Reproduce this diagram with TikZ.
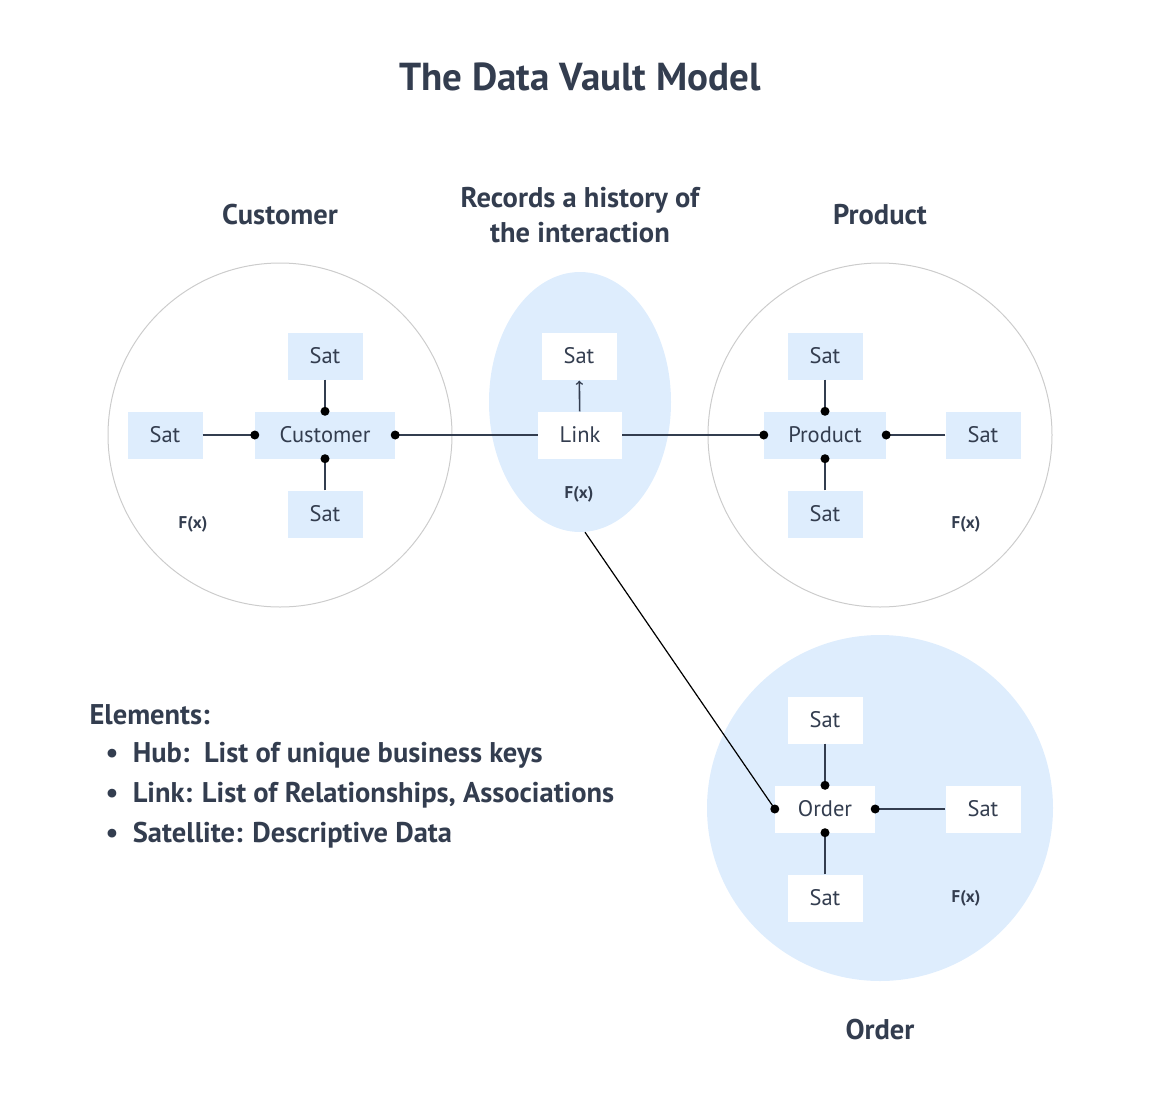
\documentclass[tikz,border=0pt]{standalone}
\usepackage{fontspec}
\setmainfont{PT Sans}
\usetikzlibrary{positioning,shapes,calc}
\definecolor{ink}{HTML}{333D4F}
\definecolor{pale}{HTML}{DEEDFD}
\tikzset{
  box/.style = {rectangle, fill=pale, minimum width=75pt, minimum height=47pt, inner sep=0pt, text=ink, font=\fontsize{22.5}{26}\selectfont},
  wbox/.style = {box, fill=white},
  fx/.style = {text=ink, font=\bfseries\fontsize{17}{19}\selectfont},
  head/.style = {text=ink, align=center, font=\bfseries\fontsize{28.5}{35}\selectfont},
  con/.style = {draw=ink, line width=1.6pt},
  dot/.style = {circle, fill=black, inner sep=0pt, minimum size=9pt}
}
\begin{document}
\begin{tikzpicture}[x=1pt, y=-1pt]
  \useasboundingbox (0,0) rectangle (1160,1093);
  % circles
  \draw[draw=black!20, line width=1pt] (280,435) circle (172);
  \draw[draw=black!20, line width=1pt] (880,435) circle (172);
  \fill[pale] (880,808) circle (173);
  \node[ellipse, fill=pale, minimum width=182pt, minimum height=260pt] (lnkarea) at (580,402) {};
  % headings
  \node[head, font=\bfseries\fontsize{39}{46}\selectfont] (title) at (580,77) {The Data Vault Model};
  \node[head] (tcust) at (280,215) {Customer};
  \node[head] (tlink) at (580,215) {Records a history of\\the interaction};
  \node[head] (tprod) at (880,215) {Product};
  \node[head] (tord) at (880,1030) {Order};
  % customer hub
  \node[box, minimum width=140pt] (cust) at (325,435) {Customer};
  \node[box] (cs1) at (325,356) {Sat};
  \node[box] (cs2) at (165,435) {Sat};
  \node[box] (cs3) at (325,514) {Sat};
  % link
  \node[wbox, minimum width=84pt] (link) at (580,435) {Link};
  \node[wbox] (ls) at (579,356) {Sat};
  % product hub
  \node[box, minimum width=122pt] (prod) at (825,435) {Product};
  \node[box] (ps1) at (825,356) {Sat};
  \node[box] (ps2) at (983,435) {Sat};
  \node[box] (ps3) at (825,514) {Sat};
  % order hub
  \node[wbox, minimum width=100pt] (ord) at (825,809) {Order};
  \node[wbox] (os1) at (825,720) {Sat};
  \node[wbox] (os2) at (983,809) {Sat};
  \node[wbox] (os3) at (825,898) {Sat};
  % F(x)
  \node[fx] (fx1) at (193,524) {F(x)};
  \node[fx] (fx2) at (579,494) {F(x)};
  \node[fx] (fx3) at (966,524) {F(x)};
  \node[fx] (fx4) at (966,898) {F(x)};
  % connectors
  \draw[con] (cs1) -- (cust.north) node[dot] {};
  \draw[con] (cs3) -- (cust.south) node[dot] {};
  \draw[con] (cs2) -- (cust.west) node[dot] {};
  \draw[con] (link) -- (cust.east) node[dot] {};
  \draw[con] (link) -- (prod.west) node[dot] {};
  \draw[con] (ps1) -- (prod.north) node[dot] {};
  \draw[con] (ps3) -- (prod.south) node[dot] {};
  \draw[con] (ps2) -- (prod.east) node[dot] {};
  \draw[con, ->, >=to, shorten >=1pt] (link) -- (ls);
  \draw[con] (os1) -- (ord.north) node[dot] {};
  \draw[con] (os3) -- (ord.south) node[dot] {};
  \draw[con] (os2) -- (ord.east) node[dot] {};
  \coordinate (lnkfoot) at ($(lnkarea.south)+(5,0)$);
  \draw[line width=1.2pt] (lnkfoot) -- (ord.west) node[dot] {};
  % elements list
  \node[head, anchor=west] (elem) at (86,715) {Elements:};
  \foreach \i/\t in {0/{Hub:\ \ List of unique business keys},1/{Link: List of Relationships, Associations},2/{Satellite: Descriptive Data}}{
    \node[head, anchor=west] (item\i) at (102,755+40*\i) {\textbullet\ \ \t};
  }
\end{tikzpicture}
\end{document}
